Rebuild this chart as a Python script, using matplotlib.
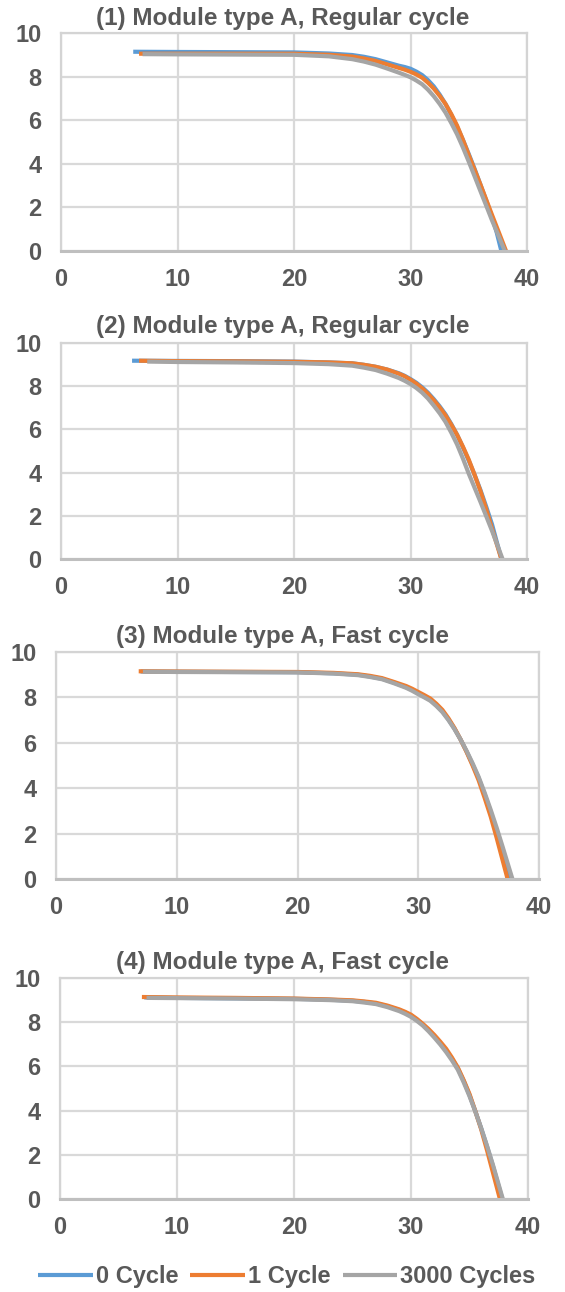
import matplotlib
matplotlib.use("Agg")
import matplotlib.pyplot as plt

plt.rcParams['font.family'] = ['Liberation Sans', 'DejaVu Sans']
plt.rcParams['font.weight'] = 'bold'

TXT = '#595959'
COLORS = {'0 Cycle': '#5b9bd5', '1 Cycle': '#ed7d31', '3000 Cycles': '#a5a5a5'}
series_names = ['0 Cycle', '1 Cycle', '3000 Cycles']

titles = ['(1) Module type A, Regular cycle',
          '(2) Module type A, Regular cycle',
          '(3) Module type A, Fast cycle',
          '(4) Module type A, Fast cycle']

x_ticks = [0, 10, 20, 30, 40]
y_ticks = [0, 2, 4, 6, 8, 10]

# ---- Panel 1 ----
p1_v0 = [6.2, 10, 15, 20, 23, 25, 26, 27, 28, 29, 29.5, 30, 30.5, 31, 31.5, 32, 32.5, 33, 33.5, 34, 34.5, 35, 35.5, 36, 36.5, 37, 37.4, 37.8]
p1_i0 = [9.14, 9.13, 9.12, 9.11, 9.06, 8.99, 8.91, 8.8, 8.65, 8.5, 8.44, 8.36, 8.23, 8.07, 7.84, 7.55, 7.18, 6.75, 6.25, 5.7, 5.1, 4.45, 3.77, 3.05, 2.32, 1.55, 0.85, 0]
p1_v1 = [6.7, 10, 15, 20, 23, 25, 26, 27, 28, 29, 29.5, 30, 30.5, 31, 31.5, 32, 32.5, 33, 33.5, 34, 34.5, 35, 35.5, 36, 36.5, 37, 37.6, 38.2]
p1_i1 = [9.05, 9.05, 9.05, 9.05, 9.0, 8.92, 8.83, 8.72, 8.56, 8.4, 8.32, 8.22, 8.1, 7.95, 7.72, 7.45, 7.12, 6.75, 6.28, 5.75, 5.1, 4.4, 3.73, 3.05, 2.35, 1.65, 0.83, 0]
p1_v3 = [7.0, 10, 15, 20, 23, 25, 26, 27, 28, 29, 29.5, 30, 30.5, 31, 31.5, 32, 32.5, 33, 33.5, 34, 34.5, 35, 35.5, 36, 36.5, 37, 37.5, 38.1]
p1_i3 = [9.03, 9.02, 9.01, 9.0, 8.93, 8.8, 8.69, 8.55, 8.37, 8.18, 8.08, 7.97, 7.82, 7.65, 7.4, 7.1, 6.75, 6.35, 5.87, 5.35, 4.75, 4.1, 3.43, 2.75, 2.08, 1.4, 0.77, 0]

# ---- Panel 2 ----
p2_v0 = [6.1, 10, 15, 20, 23, 25, 26, 27, 28, 29, 29.5, 30, 30.5, 31, 31.5, 32, 32.5, 33, 33.5, 34, 34.5, 35, 35.5, 36, 36.5, 37, 37.4, 37.8]
p2_i0 = [9.18, 9.17, 9.16, 9.14, 9.1, 9.06, 8.99, 8.9, 8.77, 8.6, 8.48, 8.33, 8.16, 7.95, 7.7, 7.4, 7.07, 6.7, 6.25, 5.75, 5.17, 4.55, 3.9, 3.2, 2.42, 1.6, 0.8, 0]
p2_v1 = [6.7, 10, 15, 20, 23, 25, 26, 27, 28, 29, 29.5, 30, 30.5, 31, 31.5, 32, 32.5, 33, 33.5, 34, 34.5, 35, 35.5, 36, 36.5, 37, 37.4, 37.8]
p2_i1 = [9.18, 9.16, 9.15, 9.13, 9.1, 9.06, 8.99, 8.9, 8.77, 8.58, 8.46, 8.3, 8.12, 7.9, 7.65, 7.35, 7.02, 6.65, 6.22, 5.75, 5.2, 4.6, 3.9, 3.15, 2.3, 1.4, 0.7, 0]
p2_v3 = [7.4, 10, 15, 20, 23, 25, 26, 27, 28, 29, 29.5, 30, 30.5, 31, 31.5, 32, 32.5, 33, 33.5, 34, 34.5, 35, 35.5, 36, 36.5, 37, 37.5, 37.9]
p2_i3 = [9.14, 9.12, 9.1, 9.07, 9.02, 8.95, 8.86, 8.75, 8.58, 8.38, 8.25, 8.1, 7.92, 7.7, 7.43, 7.1, 6.75, 6.35, 5.85, 5.3, 4.65, 3.95, 3.3, 2.65, 1.98, 1.3, 0.58, 0]

# ---- Panel 3 ----
p3_v0 = [7.0, 10, 15, 20, 23, 25, 26, 27, 28, 29, 29.5, 30, 30.5, 31, 31.5, 32, 32.5, 33, 33.5, 34, 34.5, 35, 35.5, 36, 36.5, 37, 37.4, 37.7]
p3_i0 = [9.14, 9.13, 9.12, 9.11, 9.06, 9.0, 8.92, 8.82, 8.65, 8.45, 8.33, 8.18, 8.04, 7.88, 7.65, 7.38, 7.03, 6.62, 6.15, 5.62, 5.05, 4.45, 3.73, 2.95, 2.12, 1.25, 0.55, 0]
p3_v1 = [6.85, 10, 15, 20, 23, 25, 26, 27, 28, 29, 29.5, 30, 30.5, 31, 31.5, 32, 32.5, 33, 33.5, 34, 34.5, 35, 35.5, 36, 36.5, 37, 37.2, 37.4]
p3_i1 = [9.15, 9.14, 9.13, 9.12, 9.08, 9.02, 8.95, 8.85, 8.68, 8.5, 8.38, 8.24, 8.1, 7.95, 7.72, 7.45, 7.08, 6.65, 6.15, 5.6, 5.0, 4.35, 3.57, 2.75, 1.8, 0.8, 0.4, 0]
p3_v3 = [7.2, 10, 15, 20, 23, 25, 26, 27, 28, 29, 29.5, 30, 30.5, 31, 31.5, 32, 32.5, 33, 33.5, 34, 34.5, 35, 35.5, 36, 36.5, 37, 37.4, 37.8]
p3_i3 = [9.13, 9.12, 9.11, 9.1, 9.05, 8.98, 8.9, 8.8, 8.62, 8.42, 8.29, 8.14, 8.0, 7.85, 7.62, 7.35, 7.0, 6.6, 6.15, 5.65, 5.1, 4.5, 3.8, 3.05, 2.25, 1.4, 0.7, 0]

# ---- Panel 4 ----
p4_v0 = [7.2, 10, 15, 20, 23, 25, 26, 27, 28, 29, 29.5, 30, 30.5, 31, 31.5, 32, 32.5, 33, 33.5, 34, 34.5, 35, 35.5, 36, 36.5, 37, 37.4, 37.8]
p4_i0 = [9.12, 9.1, 9.08, 9.06, 9.02, 8.97, 8.92, 8.85, 8.72, 8.55, 8.44, 8.3, 8.12, 7.9, 7.65, 7.36, 7.05, 6.72, 6.35, 5.92, 5.35, 4.7, 3.97, 3.2, 2.37, 1.5, 0.75, 0]
p4_v1 = [7.0, 10, 15, 20, 23, 25, 26, 27, 28, 29, 29.5, 30, 30.5, 31, 31.5, 32, 32.5, 33, 33.5, 34, 34.5, 35, 35.5, 36, 36.5, 37, 37.3, 37.6]
p4_i1 = [9.14, 9.12, 9.1, 9.07, 9.03, 8.99, 8.94, 8.88, 8.75, 8.58, 8.47, 8.34, 8.15, 7.93, 7.69, 7.42, 7.12, 6.8, 6.4, 5.95, 5.38, 4.75, 3.97, 3.15, 2.2, 1.2, 0.6, 0]
p4_v3 = [7.4, 10, 15, 20, 23, 25, 26, 27, 28, 29, 29.5, 30, 30.5, 31, 31.5, 32, 32.5, 33, 33.5, 34, 34.5, 35, 35.5, 36, 36.5, 37, 37.4, 37.85]
p4_i3 = [9.1, 9.09, 9.07, 9.04, 9.0, 8.95, 8.89, 8.82, 8.68, 8.5, 8.38, 8.24, 8.06, 7.85, 7.59, 7.3, 6.99, 6.65, 6.27, 5.85, 5.28, 4.65, 3.95, 3.2, 2.4, 1.55, 0.82, 0]

panels = [
    [(p1_v0, p1_i0), (p1_v1, p1_i1), (p1_v3, p1_i3)],
    [(p2_v0, p2_i0), (p2_v1, p2_i1), (p2_v3, p2_i3)],
    [(p3_v0, p3_i0), (p3_v1, p3_i1), (p3_v3, p3_i3)],
    [(p4_v0, p4_i0), (p4_v1, p4_i1), (p4_v3, p4_i3)],
]

W, H = 565, 1292
fig = plt.figure(figsize=(W / 100, H / 100), dpi=100)

# pixel boxes: left, right, top, bottom ; title y center
boxes = [(61, 527, 33, 251, 18),
         (61, 527, 343, 559, 327),
         (56, 539, 652, 879, 637),
         (60, 528, 978, 1199, 962)]

handles = []
for k, (l, r, t, b, ty) in enumerate(boxes):
    ax = fig.add_axes([l / W, 1 - b / H, (r - l) / W, (b - t) / H])
    for name, (v, i) in zip(series_names, panels[k]):
        ln, = ax.plot(v, i, color=COLORS[name], lw=3.0, label=name,
                      solid_capstyle='butt', solid_joinstyle='round')
        if k == 0:
            handles.append(ln)
    ax.set_xlim(0, 40)
    ax.set_ylim(0, 10)
    ax.set_xticks(x_ticks)
    ax.set_yticks(y_ticks)
    ax.grid(True, color='#d9d9d9', lw=1.6)
    ax.set_axisbelow(True)
    for s in ['top', 'left', 'right']:
        ax.spines[s].set_color('#d4d4d4')
        ax.spines[s].set_linewidth(1.6)
    ax.spines['bottom'].set_color('#bfbfbf')
    ax.spines['bottom'].set_linewidth(2.2)
    ax.tick_params(axis='both', length=0, labelsize=17, labelcolor=TXT)
    ax.tick_params(axis='x', pad=12)
    ax.tick_params(axis='y', pad=14)
    for lab in ax.get_xticklabels() + ax.get_yticklabels():
        lab.set_fontweight('bold')
    fig.text(283 / W, 1 - ty / H, titles[k], ha='center', va='center',
             fontsize=17.5, fontweight='bold', color=TXT)

leg = fig.legend(handles, series_names, loc='center', bbox_to_anchor=(0.508, 1 - 1277 / H),
                 ncol=3, frameon=False, fontsize=17, handlelength=2.3,
                 handletextpad=0.15, columnspacing=0.5)
for t in leg.get_texts():
    t.set_color(TXT)
    t.set_fontweight('bold')

fig.savefig('out.png', dpi=100)
